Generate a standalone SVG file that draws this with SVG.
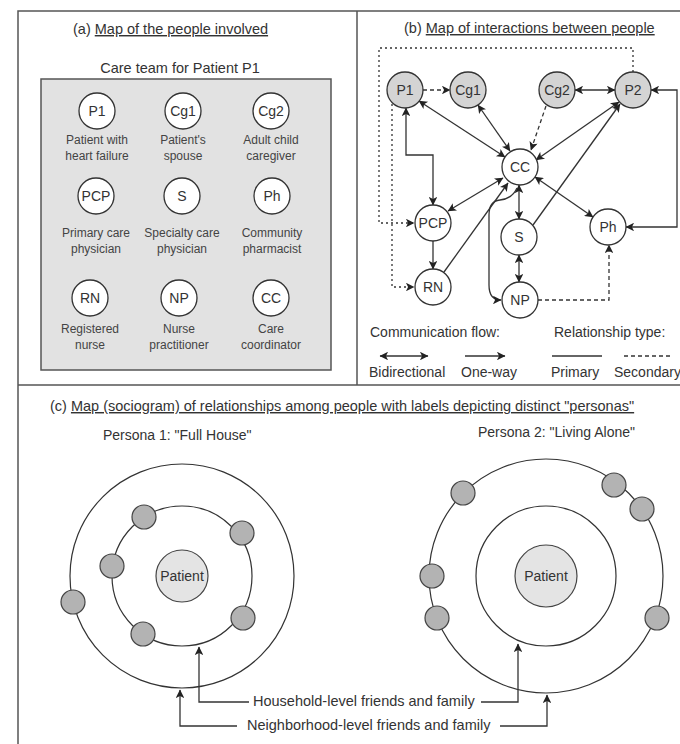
<svg xmlns="http://www.w3.org/2000/svg" width="680" height="744" viewBox="0 0 680 744">
<defs>
<marker id="ah" viewBox="0 0 10 10" refX="9.5" refY="5" markerWidth="10" markerHeight="8.5" orient="auto-start-reverse" markerUnits="userSpaceOnUse"><path d="M0,0 L10,5 L0,10 L2.5,5 z" fill="#222"/></marker>
</defs>
<style>
text{font-family:"Liberation Sans",Arial,sans-serif;fill:#333}
.t{font-size:14.5px}
.n{font-size:14px;text-anchor:middle}
.d{font-size:12px;text-anchor:middle;fill:#444}
.l{font-size:14px}
.c{fill:#fff;stroke:#333;stroke-width:1.3}
.g{fill:#d4d4d4;stroke:#333;stroke-width:1.3}
.e{fill:none;stroke:#333;stroke-width:1.3}
.ds{stroke-dasharray:4 3}
.dt{stroke-dasharray:2 3}
.ring{fill:none;stroke:#333;stroke-width:1.2}
.dot{fill:#b3b3b3;stroke:#444;stroke-width:1.2}
.pat{fill:#e4e4e4;stroke:#444;stroke-width:1.2}
.u{text-decoration:underline}
.fr{fill:none;stroke:#555;stroke-width:1.5}
</style>
<rect width="680" height="744" fill="#fff"/>
<g id="frame">
<rect class="fr" x="18" y="11" width="700" height="760"/>
<line class="fr" x1="357" y1="11" x2="357" y2="385"/>
<line class="fr" x1="18" y1="385" x2="700" y2="385"/>
</g>

<!-- Panel (a) -->
<g id="panel-a">
<text class="t" x="73" y="34">(a) <tspan class="u">Map of the people involved</tspan></text>
<text class="t" x="180" y="73" text-anchor="middle">Care team for Patient P1</text>
<rect x="41" y="79" width="290" height="291" fill="#e2e2e2" stroke="#555" stroke-width="1.5"/>
<g id="a-P1"><circle class="c" cx="97" cy="111" r="18"/><text class="n" x="97" y="116">P1</text><text class="d" x="97" y="144">Patient with</text><text class="d" x="97" y="160">heart failure</text></g>
<g id="a-Cg1"><circle class="c" cx="183" cy="111" r="18"/><text class="n" x="183" y="116">Cg1</text><text class="d" x="183" y="144">Patient's</text><text class="d" x="183" y="160">spouse</text></g>
<g id="a-Cg2"><circle class="c" cx="271" cy="111" r="18"/><text class="n" x="271" y="116">Cg2</text><text class="d" x="271" y="144">Adult child</text><text class="d" x="271" y="160">caregiver</text></g>
<g id="a-PCP"><circle class="c" cx="96" cy="196" r="18"/><text class="n" x="96" y="201">PCP</text><text class="d" x="96" y="237">Primary care</text><text class="d" x="96" y="253">physician</text></g>
<g id="a-S"><circle class="c" cx="182" cy="196" r="18"/><text class="n" x="182" y="201">S</text><text class="d" x="182" y="237">Specialty care</text><text class="d" x="182" y="253">physician</text></g>
<g id="a-Ph"><circle class="c" cx="272" cy="196" r="18"/><text class="n" x="272" y="201">Ph</text><text class="d" x="272" y="237">Community</text><text class="d" x="272" y="253">pharmacist</text></g>
<g id="a-RN"><circle class="c" cx="90" cy="298" r="18"/><text class="n" x="90" y="303">RN</text><text class="d" x="90" y="333">Registered</text><text class="d" x="90" y="349">nurse</text></g>
<g id="a-NP"><circle class="c" cx="179" cy="298" r="18"/><text class="n" x="179" y="303">NP</text><text class="d" x="179" y="333">Nurse</text><text class="d" x="179" y="349">practitioner</text></g>
<g id="a-CC"><circle class="c" cx="271" cy="298" r="18"/><text class="n" x="271" y="303">CC</text><text class="d" x="271" y="333">Care</text><text class="d" x="271" y="349">coordinator</text></g>
</g>

<!-- Panel (b) -->
<text class="t" x="404" y="33">(b) <tspan class="u">Map of interactions between people</tspan></text>
<g id="connectors">
<path class="e dt" d="M633,72 V48 H379 V223 H414" marker-end="url(#ah)"/>
<path class="e dt" d="M392,104 V287 H414" marker-end="url(#ah)"/>
<path class="e ds" d="M423,90 H450" marker-end="url(#ah)"/>
<path class="e" d="M575,90 H615" marker-start="url(#ah)" marker-end="url(#ah)"/>
<path class="e" d="M406,108 V155 H433 V205" marker-start="url(#ah)" marker-end="url(#ah)"/>
<path class="e" d="M419,101 L505,157" marker-start="url(#ah)" marker-end="url(#ah)"/>
<path class="e" d="M478,105 L510,151" marker-start="url(#ah)" marker-end="url(#ah)"/>
<path class="e ds" d="M546,106 L531,150" marker-end="url(#ah)"/>
<path class="e" d="M619,102 L536,160" marker-start="url(#ah)" marker-end="url(#ah)"/>
<path class="e" d="M533,225 L620,104" marker-end="url(#ah)"/>
<path class="e" d="M448,211 L503,178" marker-start="url(#ah)" marker-end="url(#ah)"/>
<path class="e" d="M444,272 L508,183" marker-end="url(#ah)"/>
<path class="e" d="M519,185 V219" marker-start="url(#ah)" marker-end="url(#ah)"/>
<path class="e" d="M517,188 Q512,199 500,200 Q489,201 489,215 L489,285 Q489,300 501,300" marker-end="url(#ah)"/>
<path class="e" d="M519,255 V282" marker-start="url(#ah)" marker-end="url(#ah)"/>
<path class="e" d="M535,177 L593,217" marker-start="url(#ah)" marker-end="url(#ah)"/>
<path class="e" d="M626,227 H677 V90 H651" marker-start="url(#ah)" marker-end="url(#ah)"/>
<path class="e ds" d="M538,300 H609 V245" marker-end="url(#ah)"/>
<path class="e" d="M433,241 V269" marker-end="url(#ah)"/>
</g>
<g id="b-P1"><circle class="g" cx="405" cy="90" r="18"/><text class="n" x="405" y="95">P1</text></g>
<g id="b-Cg1"><circle class="g" cx="468" cy="90" r="18"/><text class="n" x="468" y="95">Cg1</text></g>
<g id="b-Cg2"><circle class="g" cx="557" cy="90" r="18"/><text class="n" x="557" y="95">Cg2</text></g>
<g id="b-P2"><circle class="g" cx="633" cy="90" r="18"/><text class="n" x="633" y="95">P2</text></g>
<g id="b-CC"><circle class="c" cx="520" cy="167" r="18"/><text class="n" x="520" y="172">CC</text></g>
<g id="b-PCP"><circle class="c" cx="433" cy="223" r="18"/><text class="n" x="433" y="228">PCP</text></g>
<g id="b-S"><circle class="c" cx="519" cy="237" r="18"/><text class="n" x="519" y="242">S</text></g>
<g id="b-Ph"><circle class="c" cx="608" cy="227" r="18"/><text class="n" x="608" y="232">Ph</text></g>
<g id="b-RN"><circle class="c" cx="433" cy="287" r="18"/><text class="n" x="433" y="292">RN</text></g>
<g id="b-NP"><circle class="c" cx="520" cy="300" r="18"/><text class="n" x="520" y="305">NP</text></g>
<g id="legend">
<text class="l" x="370" y="337">Communication flow:</text>
<text class="l" x="554" y="337">Relationship type:</text>
<path class="e" d="M380,356 H428" marker-start="url(#ah)" marker-end="url(#ah)"/>
<path class="e" d="M465,356 H505" marker-end="url(#ah)"/>
<path class="e" d="M552,356 H602"/>
<path class="e ds" d="M624,356 H672"/>
<text class="l" x="369" y="377">Bidirectional</text>
<text class="l" x="461" y="377">One-way</text>
<text class="l" x="551" y="377">Primary</text>
<text class="l" x="614" y="377">Secondary</text>
</g>

<!-- Panel (c) -->
<text class="t" x="50" y="411">(c) <tspan class="u">Map (sociogram) of relationships among people with labels depicting distinct "personas"</tspan></text>
<g id="persona1">
<text class="l" x="103" y="440">Persona 1: "Full House"</text>
<circle class="ring" cx="182" cy="576" r="112"/>
<circle class="ring" cx="182" cy="576" r="70"/>
<circle class="pat" cx="182" cy="576" r="26"/>
<text class="n" x="182" y="581">Patient</text>
<circle class="dot" cx="144" cy="517" r="12"/>
<circle class="dot" cx="242" cy="533" r="12"/>
<circle class="dot" cx="112" cy="566" r="12"/>
<circle class="dot" cx="73" cy="602" r="12"/>
<circle class="dot" cx="143" cy="634" r="12"/>
<circle class="dot" cx="243" cy="618" r="12"/>
</g>
<g id="persona2">
<text class="l" x="478" y="437">Persona 2: "Living Alone"</text>
<circle class="ring" cx="546" cy="576" r="117"/>
<circle class="ring" cx="546" cy="576" r="70"/>
<circle class="pat" cx="546" cy="576" r="31"/>
<text class="n" x="546" y="581">Patient</text>
<circle class="dot" cx="463" cy="493" r="12"/>
<circle class="dot" cx="614" cy="485" r="12"/>
<circle class="dot" cx="642" cy="509" r="12"/>
<circle class="dot" cx="432" cy="576" r="12"/>
<circle class="dot" cx="437" cy="618" r="12"/>
<circle class="dot" cx="657" cy="618" r="12"/>
</g>
<g id="labels-c">
<path class="e" d="M249,702 H199 V647" marker-end="url(#ah)"/>
<path class="e" d="M481,702 H518 V644" marker-end="url(#ah)"/>
<text class="t" x="253" y="706">Household-level friends and family</text>
<path class="e" d="M237,726 H180 V690" marker-end="url(#ah)"/>
<path class="e" d="M500,726 H547 V695" marker-end="url(#ah)"/>
<text class="t" x="247" y="730">Neighborhood-level friends and family</text>
</g>
</svg>
